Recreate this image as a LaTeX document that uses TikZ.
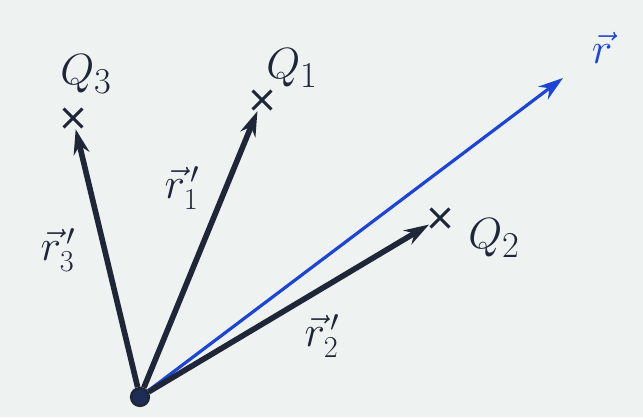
\documentclass[tikz,border=0pt]{standalone}
\usepackage{tikz}
\usetikzlibrary{arrows.meta,positioning,calc,shapes.misc}
\definecolor{Paper}{HTML}{EEF2F1}
\definecolor{Ink}{HTML}{1E2638}
\definecolor{Pen}{HTML}{1C44D6}
\tikzset{
  chargemark/.style={cross out,draw=Ink,line width=1.8pt,minimum size=9pt,inner sep=0pt},
  originmark/.style={circle,draw=Ink,fill=Ink!80!Pen,line width=1.5pt,minimum size=10pt,inner sep=0pt},
  chargelabel/.style={font=\fontsize{32}{36}\selectfont,text=Ink},
  veclabel/.style={font=\fontsize{27}{30}\selectfont,text=Ink},
  sourceline/.style={-{Stealth[length=5mm,width=3.2mm]},draw=Ink,line width=3.2pt,shorten >=1pt},
  fieldline/.style={-{Stealth[length=5mm,width=3.2mm]},draw=Pen,line width=1.8pt}
}
\begin{document}
\begin{tikzpicture}[x=0.02cm,y=-0.02cm]
  \fill[Paper] (0,0) rectangle (643,417);
  \useasboundingbox (0,0) rectangle (643,417);
  \node[originmark] (o) at (140,397) {};
  \node[chargemark] (q3) at (73,118) {};
  \node[chargemark] (q1) at (262,100) {};
  \node[chargemark] (q2) at (440,218) {};
  \coordinate (rtip) at (563,78);
  \node[chargelabel] (q3lab) at (86,74) {$Q_3$};
  \node[chargelabel] (q1lab) at (292,68) {$Q_1$};
  \node[chargelabel] (q2lab) at (494,238) {$Q_2$};
  \node[chargelabel,text=Pen] (rlab) at (602,48) {$\vec r$};
  \node[veclabel] (r3lab) at (58,250) {$\vec r_3^{\,\prime}$};
  \node[veclabel] (r1lab) at (182,188) {$\vec r_1^{\,\prime}$};
  \node[veclabel] (r2lab) at (322,336) {$\vec r_2^{\,\prime}$};
  \draw[fieldline] (o) -- (rtip);
  \draw[sourceline] (o) -- (q3);
  \draw[sourceline] (o) -- (q1);
  \draw[sourceline] (o) -- (q2);
\end{tikzpicture}
\end{document}
